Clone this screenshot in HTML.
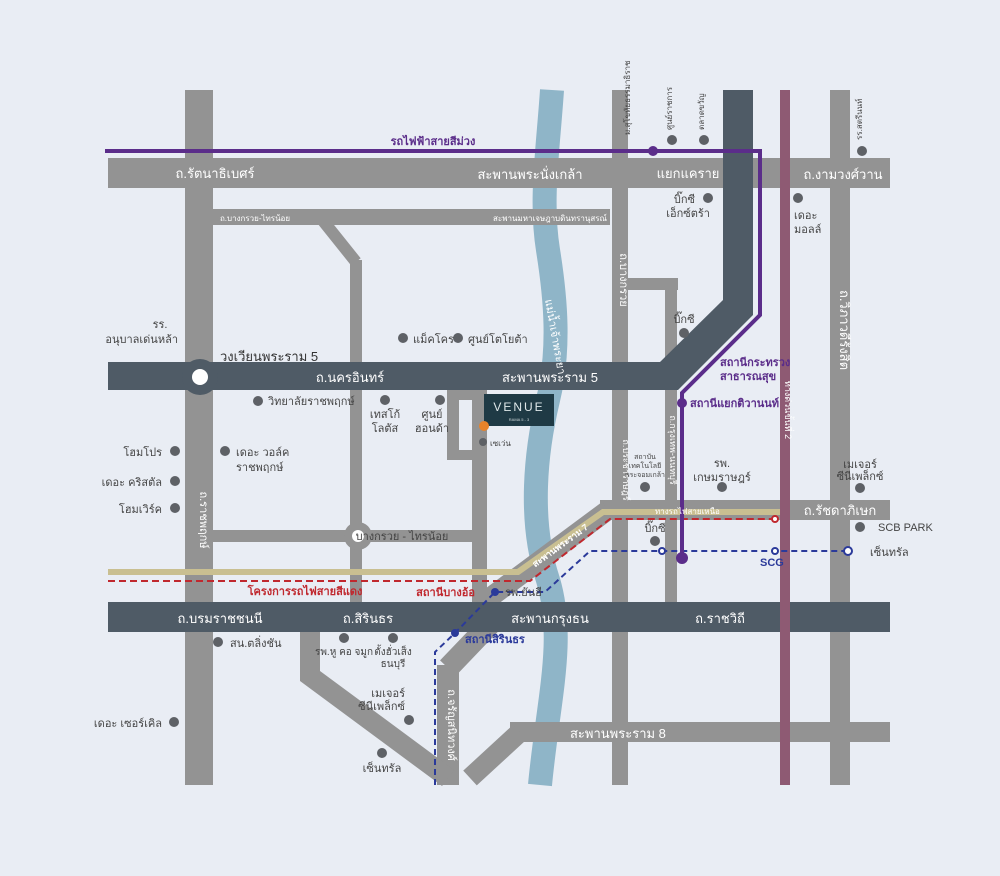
<!DOCTYPE html>
<html><head><meta charset="utf-8"><style>
html,body{margin:0;padding:0;background:#e9edf4}
svg{display:block}
text{font-family:"Liberation Sans","Noto Sans CJK SC",sans-serif}
</style></head><body>
<svg width="1000" height="876" viewBox="0 0 1000 876" xmlns="http://www.w3.org/2000/svg">
<rect width="1000" height="876" fill="#e9edf4"/>
<path d="M552 90 C548 150,540 200,548 250 C556 300,560 350,548 400 C536 450,528 520,548 580 C566 640,548 700,540 785" stroke="#8fb5c8" stroke-width="24" fill="none"/>
<g fill="#939393">
<rect x="185" y="90" width="28" height="695"/>
<rect x="108" y="158" width="782" height="30"/>
<rect x="190" y="209" width="420" height="16"/>
<rect x="612" y="90" width="16" height="695"/>
<rect x="830" y="90" width="20" height="695"/>
<rect x="213" y="530" width="270" height="12"/>
<rect x="472" y="390" width="15" height="215"/>
<rect x="447" y="390" width="12" height="70"/>
<rect x="447" y="390" width="40" height="10"/>
<rect x="447" y="450" width="40" height="10"/>
<rect x="350" y="260" width="12" height="345"/>
<rect x="510" y="722" width="380" height="20"/>
<rect x="600" y="500" width="290" height="20"/>
<rect x="628" y="278" width="50" height="12"/>
<rect x="665" y="278" width="12" height="325"/>
<rect x="437" y="665" width="22" height="120"/>
</g>
<g stroke="#939393" fill="none" stroke-linejoin="miter">
<path d="M320 217 L356 262" stroke-width="12"/>
<path d="M480 605 L608 510" stroke-width="20"/>
<path d="M448 668 L492 622" stroke-width="22"/>
<path d="M310 632 L310 676 L448 778" stroke-width="20"/>
<path d="M470 778 L520 732" stroke-width="20"/>
</g>
<g fill="#4f5b66">
<rect x="108" y="362" width="570" height="28"/>
<rect x="723" y="90" width="30" height="225"/>
<polygon points="723,300 753,315 678,390 660,390 660,362"/>
<rect x="108" y="602" width="782" height="30"/>
</g>
<circle cx="200" cy="377" r="18" fill="#4f5b66"/>
<circle cx="200" cy="377" r="8" fill="#fff"/>
<circle cx="358" cy="536" r="14" fill="#939393"/>
<circle cx="358" cy="536" r="6" fill="#fff"/>
<rect x="780" y="90" width="10" height="695" fill="#8e5a73"/>
<path d="M108 572 L518 572 L603 512 L780 512" stroke="#c9bf91" stroke-width="6" fill="none"/>
<path d="M108 581 L530 581 L610 519 L775 519" stroke="#c0282e" stroke-width="2" stroke-dasharray="7,4" fill="none"/>
<circle cx="775" cy="519" r="3" fill="#fff" stroke="#c0282e" stroke-width="2"/>
<path d="M435 785 L435 652 L455 633 L495 592 L545 592 L590 551 L850 551" stroke="#2b3a9a" stroke-width="2" stroke-dasharray="6,4" fill="none"/>
<circle cx="455" cy="633" r="4" fill="#2b3a9a"/><circle cx="495" cy="592" r="4" fill="#2b3a9a"/>
<circle cx="662" cy="551" r="3" fill="#fff" stroke="#2b3a9a" stroke-width="2"/>
<circle cx="775" cy="551" r="3" fill="#fff" stroke="#2b3a9a" stroke-width="2"/>
<circle cx="848" cy="551" r="4" fill="#fff" stroke="#2b3a9a" stroke-width="2"/>
<path d="M105 151 L760 151 L760 315 L682 393 L682 558" stroke="#5b2d8a" stroke-width="4" fill="none"/>
<circle cx="653" cy="151" r="5" fill="#5b2d8a"/>
<circle cx="682" cy="403" r="5" fill="#5b2d8a"/>
<circle cx="682" cy="558" r="6" fill="#5b2d8a"/>
<rect x="484" y="394" width="70" height="32" fill="#1f3a45"/>
<text x="519" y="411" font-size="12" fill="#dfe8ea" text-anchor="middle" letter-spacing="2" font-family="Liberation Serif,serif">VENUE</text>
<text x="519" y="421" font-size="4" fill="#cfd8da" text-anchor="middle">RAMA 5 - 3</text>
<circle cx="484" cy="426" r="5" fill="#e8832a"/>
<g fill="#5e6166">
<circle cx="258" cy="401" r="5"/><circle cx="385" cy="400" r="5"/><circle cx="403" cy="338" r="5"/><circle cx="458" cy="338" r="5"/><circle cx="440" cy="400" r="5"/><circle cx="483" cy="442" r="4"/>
<circle cx="175" cy="451" r="5"/><circle cx="225" cy="451" r="5"/><circle cx="175" cy="481" r="5"/><circle cx="175" cy="508" r="5"/>
<circle cx="218" cy="642" r="5"/><circle cx="344" cy="638" r="5"/><circle cx="393" cy="638" r="5"/><circle cx="409" cy="720" r="5"/><circle cx="382" cy="753" r="5"/><circle cx="174" cy="722" r="5"/>
<circle cx="672" cy="140" r="5"/><circle cx="704" cy="140" r="5"/><circle cx="708" cy="198" r="5"/><circle cx="798" cy="198" r="5"/><circle cx="862" cy="151" r="5"/><circle cx="684" cy="333" r="5"/>
<circle cx="645" cy="487" r="5"/><circle cx="722" cy="487" r="5"/><circle cx="655" cy="541" r="5"/><circle cx="860" cy="488" r="5"/><circle cx="860" cy="527" r="5"/>
</g>
<g font-size="13" fill="#fff">
<text x="215" y="178" text-anchor="middle">ถ.รัตนาธิเบศร์</text>
<text x="530" y="179" text-anchor="middle">สะพานพระนั่งเกล้า</text>
<text x="688" y="178" text-anchor="middle">แยกแคราย</text>
<text x="843" y="179" text-anchor="middle">ถ.งามวงศ์วาน</text>
<text x="350" y="382" text-anchor="middle">ถ.นครอินทร์</text>
<text x="550" y="382" text-anchor="middle">สะพานพระราม 5</text>
<text x="220" y="361" fill="#333">วงเวียนพระราม 5</text>
<text x="220" y="623" text-anchor="middle">ถ.บรมราชชนนี</text>
<text x="368" y="623" text-anchor="middle">ถ.สิรินธร</text>
<text x="550" y="623" text-anchor="middle">สะพานกรุงธน</text>
<text x="720" y="623" text-anchor="middle">ถ.ราชวิถี</text>
<text x="840" y="515" text-anchor="middle">ถ.รัชดาภิเษก</text>
<text x="570" y="738">สะพานพระราม 8</text>
</g>
<g font-size="8" fill="#fff">
<text x="255" y="221" text-anchor="middle">ถ.บางกรวย-ไทรน้อย</text>
<text x="550" y="221" text-anchor="middle">สะพานมหาเจษฎาบดินทรานุสรณ์</text>
<text x="655" y="514">ทางรถไฟสายเหนือ</text>
</g>
<g font-size="11" fill="#444">
<text x="402" y="540" text-anchor="middle">บางกรวย - ไทรน้อย</text>
<text x="160" y="328" text-anchor="middle">รร.</text><text x="178" y="343" text-anchor="end">อนุบาลเด่นหล้า</text>
<text x="268" y="405">วิทยาลัยราชพฤกษ์</text>
<text x="385" y="418" text-anchor="middle">เทสโก้</text><text x="385" y="432" text-anchor="middle">โลตัส</text>
<text x="413" y="343">แม็คโคร</text>
<text x="468" y="343">ศูนย์โตโยต้า</text>
<text x="432" y="418" text-anchor="middle">ศูนย์</text><text x="432" y="432" text-anchor="middle">ฮอนด้า</text>
<text x="162" y="456" text-anchor="end">โฮมโปร</text>
<text x="162" y="486" text-anchor="end">เดอะ คริสตัล</text>
<text x="162" y="513" text-anchor="end">โฮมเวิร์ค</text>
<text x="236" y="456">เดอะ วอล์ค</text><text x="236" y="471">ราชพฤกษ์</text>
<text x="230" y="647">สน.ตลิ่งชัน</text>
<text x="344" y="655" text-anchor="middle" font-size="10">รพ.หู คอ จมูก</text>
<text x="393" y="655" text-anchor="middle" font-size="10">ตั้งฮั่วเส็ง</text><text x="393" y="667" text-anchor="middle" font-size="10">ธนบุรี</text>
<text x="405" y="697" text-anchor="end">เมเจอร์</text><text x="405" y="710" text-anchor="end">ซีนีเพล็กซ์</text>
<text x="382" y="772" text-anchor="middle">เซ็นทรัล</text>
<text x="162" y="727" text-anchor="end">เดอะ เซอร์เคิล</text>
<text x="695" y="203" text-anchor="end">บิ๊กซี</text><text x="710" y="217" text-anchor="end">เอ็กซ์ตร้า</text>
<text x="794" y="219">เดอะ</text><text x="794" y="233">มอลล์</text>
<text x="684" y="323" text-anchor="middle">บิ๊กซี</text>
<text x="722" y="467" text-anchor="middle">รพ.</text><text x="722" y="481" text-anchor="middle">เกษมราษฎร์</text>
<text x="645" y="459" text-anchor="middle" font-size="7">สถาบัน</text><text x="645" y="468" text-anchor="middle" font-size="7">เทคโนโลยี</text><text x="645" y="477" text-anchor="middle" font-size="7">พระจอมเกล้า</text>
<text x="655" y="532" text-anchor="middle">บิ๊กซี</text>
<text x="860" y="468" text-anchor="middle">เมเจอร์</text><text x="860" y="480" text-anchor="middle">ซีนีเพล็กซ์</text>
<text x="878" y="531">SCB PARK</text>
<text x="870" y="556">เซ็นทรัล</text>
<text x="505" y="596">รพ.ยันฮี</text>
<text x="490" y="446" font-size="8">เซเว่น</text>
</g>
<g font-size="11" font-weight="bold">
<text x="433" y="145" text-anchor="middle" fill="#5b2d8a">รถไฟฟ้าสายสีม่วง</text>
<text x="720" y="366" fill="#5b2d8a">สถานีกระทรวง</text><text x="720" y="380" fill="#5b2d8a">สาธารณสุข</text>
<text x="690" y="407" fill="#5b2d8a">สถานีแยกติวานนท์</text>
<text x="305" y="595" text-anchor="middle" fill="#c0282e">โครงการรถไฟสายสีแดง</text>
<text x="475" y="596" text-anchor="end" fill="#c0282e">สถานีบางอ้อ</text>
<text x="465" y="643" fill="#2b3a9a">สถานีสิรินธร</text>
<text x="760" y="566" fill="#2b3a9a">SCG</text>
</g>
<g font-size="11" fill="#fff">
<text transform="translate(620,280) rotate(90)" text-anchor="middle">ถ.บางกรวย</text>
<text transform="translate(623,470) rotate(90)" text-anchor="middle" font-size="9">ถ.ประชาราษฎร์</text>
<text transform="translate(670,450) rotate(90)" text-anchor="middle" font-size="9">ถ.กรุงเทพ-นนทบุรี</text>
<text transform="translate(200,520) rotate(90)" text-anchor="middle">ถ.ราชพฤกษ์</text>
<text transform="translate(840,330) rotate(90)" text-anchor="middle" font-size="13">ถ.วิภาวดีรังสิต</text>
<text transform="translate(448,725) rotate(90)" text-anchor="middle">ถ.จรัญสนิทวงศ์</text>
<text transform="translate(785,410) rotate(90)" text-anchor="middle" font-size="9">ทางด่วนขั้นที่ 2</text>
<text transform="translate(562,548) rotate(-36)" text-anchor="middle" font-size="9" font-weight="bold">สะพานพระราม 7</text>
</g>
<g font-size="8" fill="#444">
<text transform="translate(630,135) rotate(-90)">ม.สุโขทัยธรรมาธิราช</text>
<text transform="translate(672,130) rotate(-90)">ศูนย์ราชการ</text>
<text transform="translate(704,130) rotate(-90)">ตลาดขวัญ</text>
<text transform="translate(862,140) rotate(-90)">รร.สตรีนนท์</text>
<text transform="translate(545,300) rotate(80)" font-size="11" fill="#fff">แม่น้ำเจ้าพระยา</text>
</g>
</svg>
</body></html>
